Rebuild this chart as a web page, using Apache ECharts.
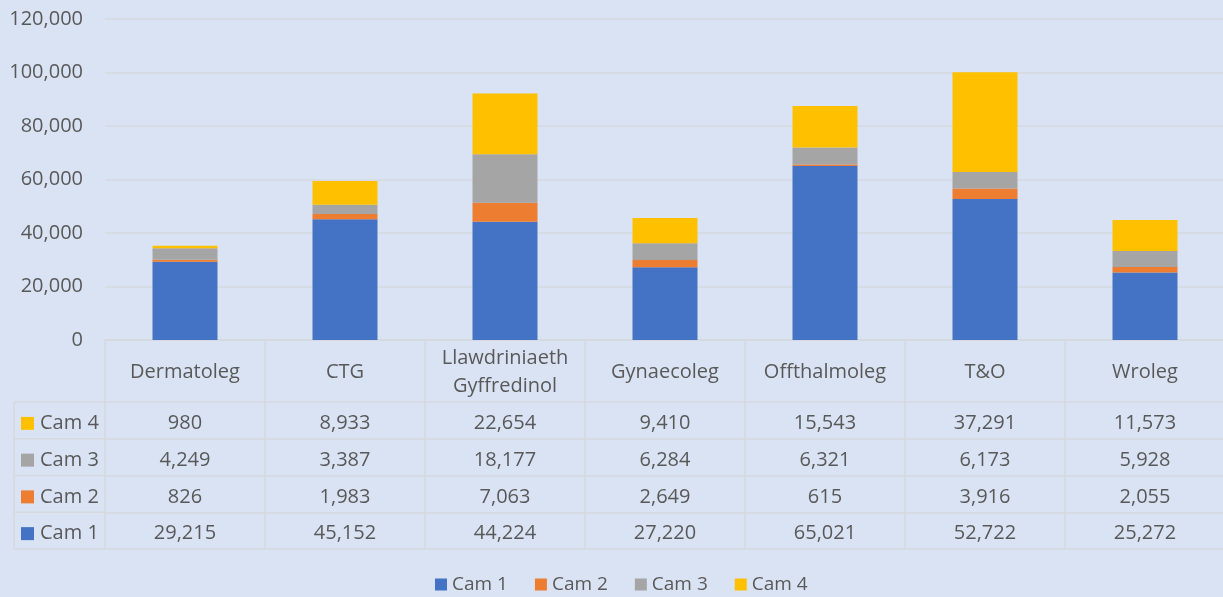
<!DOCTYPE html>
<html>
<head>
<meta charset="utf-8">
<script src="https://cdn.jsdelivr.net/npm/echarts@6/dist/echarts.min.js"></script>
<style>
  html, body { margin: 0; padding: 0; background: #dae3f3; }
  #chart { width: 1223px; height: 597px; }
</style>
</head>
<body>
<div id="chart"></div>
<script>
// data
const categories = ['Dermatoleg', 'CTG', 'Llawdriniaeth\nGyffredinol', 'Gynaecoleg', 'Offthalmoleg', 'T&O', 'Wroleg'];
const seriesNames = ['Cam 1', 'Cam 2', 'Cam 3', 'Cam 4'];
const cam1 = [29215, 45152, 44224, 27220, 65021, 52722, 25272];
const cam2 = [826, 1983, 7063, 2649, 615, 3916, 2055];
const cam3 = [4249, 3387, 18177, 6284, 6321, 6173, 5928];
const cam4 = [980, 8933, 22654, 9410, 15543, 37291, 11573];
const yMin = 0, yMax = 120000, yStep = 20000;

const colors = ['#4472c4', '#ed7d31', '#a5a5a5', '#ffc000'];
const seriesData = [cam1, cam2, cam3, cam4];

// table layout (rows shown top to bottom: Cam 4 .. Cam 1)
const gridLeft = 105, gridTop = 19, gridWidth = 1120, plotBottom = 340;
const headerH = 62, rowH = 36.75, tableLeft = 14;
const lineColor = '#d6d9de';
const textColor = '#595959';
const font = '"Open Sans", "Noto Sans", sans-serif';
const fmt = v => v.toLocaleString('en-US');

const rowOrder = [3, 2, 1, 0];

const xAxes = [{
  type: 'category',
  data: categories,
  position: 'bottom',
  axisLine: { onZero: false, lineStyle: { color: lineColor, width: 1.5 } },
  axisTick: { show: true, interval: 0, length: headerH + rowH * 4, lineStyle: { color: lineColor, width: 1.5 } },
  axisLabel: {
    interval: 0, margin: headerH / 2 + 1, verticalAlign: 'middle', align: 'center',
    color: textColor, fontSize: 20, fontFamily: font, lineHeight: 28
  }
}];
rowOrder.forEach((si, r) => {
  xAxes.push({
    type: 'category',
    data: categories,
    position: 'bottom',
    offset: headerH + rowH * r,
    axisLine: { onZero: false, lineStyle: { color: lineColor, width: 1.5 } },
    axisTick: { show: false },
    axisLabel: {
      interval: 0, margin: rowH / 2 + 3, verticalAlign: 'middle', align: 'center',
      color: textColor, fontSize: 20, fontFamily: font,
      formatter: (v, i) => fmt(seriesData[si][i])
    }
  });
});
xAxes.push({
  type: 'category',
  data: categories,
  position: 'bottom',
  offset: headerH + rowH * 4,
  axisLine: { onZero: false, lineStyle: { color: lineColor, width: 1.5 } },
  axisTick: { show: false },
  axisLabel: { show: false }
});

// left column of the table: legend keys
const graphics = [];
const rowsTop = plotBottom + headerH;
graphics.push({
  type: 'line', silent: true,
  shape: { x1: tableLeft, y1: rowsTop, x2: tableLeft, y2: rowsTop + rowH * 4 },
  style: { stroke: lineColor, lineWidth: 1.5 }
});
for (let r = 0; r <= 4; r++) {
  graphics.push({
    type: 'line', silent: true,
    shape: { x1: tableLeft, y1: rowsTop + rowH * r, x2: gridLeft, y2: rowsTop + rowH * r },
    style: { stroke: lineColor, lineWidth: 1.5 }
  });
}
rowOrder.forEach((si, r) => {
  const cy = rowsTop + rowH * r + rowH / 2 + 3;
  graphics.push({
    type: 'rect', silent: true,
    shape: { x: 21, y: cy - 6.5, width: 13, height: 13 },
    style: { fill: colors[si] }
  });
  graphics.push({
    type: 'text', silent: true,
    x: 40, y: cy,
    style: { text: seriesNames[si], fill: textColor, fontSize: 20, fontFamily: font, verticalAlign: 'middle' }
  });
});

const chart = echarts.init(document.getElementById('chart'));
chart.setOption({
  backgroundColor: '#dae3f3',
  animation: false,
  color: colors,
  textStyle: { fontFamily: font },
  grid: { left: gridLeft, top: gridTop, width: gridWidth, bottom: 597 - plotBottom, outerBoundsMode: 'none', containLabel: false },
  legend: {
    data: seriesNames,
    bottom: -2,
    left: 430,
    itemWidth: 12, itemHeight: 12, itemGap: 27,
    icon: 'rect',
    textStyle: { color: textColor, fontSize: 19, fontFamily: font }
  },
  xAxis: xAxes,
  yAxis: {
    type: 'value',
    min: yMin, max: yMax, interval: yStep,
    axisLine: { show: false },
    axisTick: { show: false },
    splitLine: { lineStyle: { color: lineColor, width: 1.5 } },
    axisLabel: { color: textColor, fontSize: 20, fontFamily: font, margin: 22, formatter: v => fmt(v) }
  },
  series: seriesNames.map((name, i) => ({
    name,
    type: 'bar',
    stack: 'total',
    barWidth: 65,
    data: seriesData[i],
    itemStyle: { color: colors[i] }
  })),
  graphic: graphics
});
</script>
</body>
</html>
